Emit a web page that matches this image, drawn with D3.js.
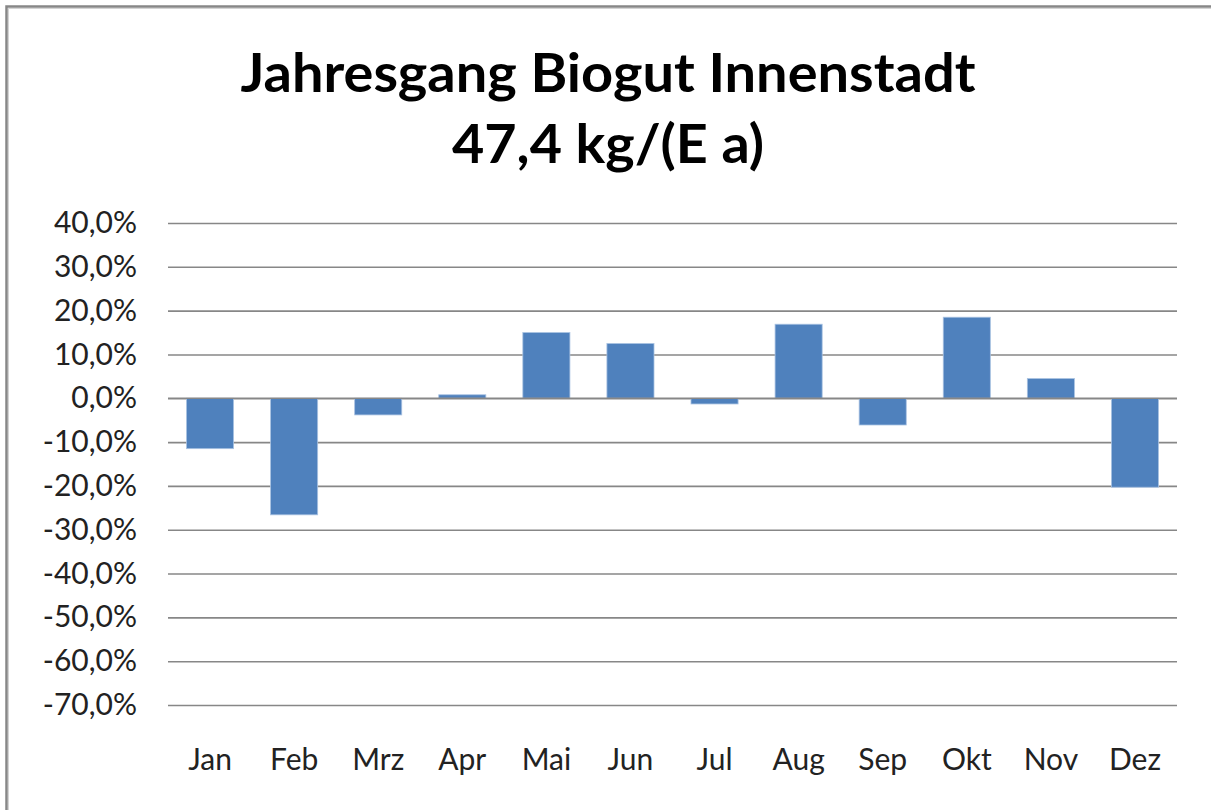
<!DOCTYPE html>
<html>
<head>
<meta charset="utf-8">
<script src="https://cdn.jsdelivr.net/npm/d3@7"></script>
<style>
  body { margin: 0; background: #fff; }
  svg { display: block; }
</style>
</head>
<body>
<svg id="chart" width="1211" height="810"></svg>
<script>
// data
var months = ["Jan", "Feb", "Mrz", "Apr", "Mai", "Jun", "Jul", "Aug", "Sep", "Okt", "Nov", "Dez"];
var values = [-11.5, -26.6, -3.8, 0.8, 15.0, 12.5, -1.3, 16.9, -6.1, 18.5, 4.5, -20.3];
var yTicks = [40, 30, 20, 10, 0, -10, -20, -30, -40, -50, -60, -70];
var titleLines = ["Jahresgang Biogut Innenstadt", "47,4 kg/(E a)"];

var w = 1211, h = 810;
// plot box (note: "top" is reserved on window, so use plotTop etc.)
var plotLeft = 168, plotRight = 1177, plotTop = 223, plotBottom = 705;
var font = "Lato, 'Open Sans', sans-serif";

var svg = d3.select("#chart");

// chart area border (runs off the right/bottom edge like the screenshot)
svg.append("rect")
  .attr("x", 6.5).attr("y", 6.5)
  .attr("width", 1400).attr("height", 1000)
  .attr("fill", "#fff")
  .attr("stroke", "#878787")
  .attr("stroke-width", 2.5);
svg.append("rect")
  .attr("x", 8.5).attr("y", 8.5)
  .attr("width", 1400).attr("height", 1000)
  .attr("fill", "none")
  .attr("stroke", "#d4d4d4")
  .attr("stroke-width", 1);

var x = d3.scaleBand().domain(months).range([plotLeft, plotRight]).paddingInner(0.44).paddingOuter(0.22);
var y = d3.scaleLinear().domain([-70, 40]).range([plotBottom, plotTop]);

// gridlines + y labels
var yAxis = d3.axisLeft(y).tickValues(yTicks)
  .tickSize(-(plotRight - plotLeft))
  .tickPadding(31)
  .tickFormat(function(d) { return d3.format(".1f")(d).replace(".", ",").replace("−", "-") + "%"; });

var gy = svg.append("g").attr("transform", "translate(" + plotLeft + ",0)").call(yAxis);
gy.select(".domain").remove();
gy.selectAll(".tick line").attr("stroke", "#878787").attr("stroke-width", 1.6);
gy.selectAll(".tick text")
  .attr("fill", "#222")
  .style("font-family", font)
  .style("font-size", "30px");

// bars
svg.append("g").selectAll("rect")
  .data(values)
  .enter()
  .append("rect")
  .attr("x", function(d, i) { return x(months[i]); })
  .attr("width", x.bandwidth())
  .attr("y", function(d) { return y(Math.max(0, d)); })
  .attr("height", function(d) { return Math.abs(y(d) - y(0)); })
  .attr("fill", "#4f81bd")
  .attr("stroke", "#a9c2e2")
  .attr("stroke-width", 0.8);

// zero line over bars
svg.append("line")
  .attr("x1", plotLeft).attr("x2", plotRight)
  .attr("y1", y(0)).attr("y2", y(0))
  .attr("stroke", "#878787").attr("stroke-width", 1.6);

// month labels
var xAxis = d3.axisBottom(x).tickSize(0).tickPadding(0);
var gx = svg.append("g").attr("transform", "translate(0,748)").call(xAxis);
gx.select(".domain").remove();
gx.selectAll(".tick text")
  .attr("dy", "0.72em")
  .attr("fill", "#222")
  .style("font-family", font)
  .style("font-size", "30px");

// title
svg.append("g").selectAll("text")
  .data(titleLines)
  .enter()
  .append("text")
  .attr("x", 608)
  .attr("y", function(d, i) { return 92 + i * 71; })
  .attr("text-anchor", "middle")
  .attr("textLength", function(d, i) { return i == 0 ? 735 : 312; })
  .attr("lengthAdjust", "spacingAndGlyphs")
  .style("font-family", font)
  .style("font-weight", "bold")
  .style("font-size", "53px")
  .attr("fill", "#000")
  .text(function(d) { return d; });
</script>
</body>
</html>
